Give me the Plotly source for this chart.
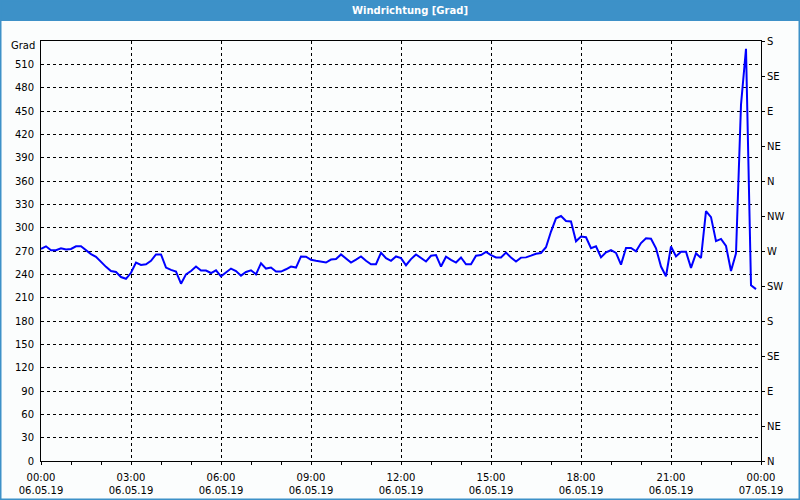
import pandas as pd
import plotly.graph_objects as go

# ---- data (10-minute samples, 06.05.19 00:00 .. 23:50) ----
start_time = "2019-05-06 00:00"
n_samples = 144
wind_dir = [
    272.6, 276, 271, 271, 273.5, 272, 272.6, 276, 276, 270.4,
    266, 262.6, 256, 249.6, 244.3, 243, 236.5, 234.3, 242, 255,
    252, 253, 257.4, 265.6, 265.6, 248.7, 245.7, 243.5, 228, 240,
    244.3, 250, 244.8, 244.8, 241.7, 245.2, 237.4, 243, 247.4, 244.3,
    238.3, 243, 245.2, 240, 254.3, 247.4, 248.7, 243.5,
    243.5, 246.5,
    250, 248.7, 263, 262.6, 258.7, 257.4, 256.5, 255.2, 259, 259.6,
    265.6, 260.9, 255.2, 259, 263, 257.4, 253, 253, 267.8, 260.9,
    257.4, 263, 260.9, 251.7, 259.6, 265.6, 260.9, 256.5, 263.9, 264.8,
    250, 262.6, 258.7, 255.2, 261.7, 253, 253, 263.9, 264.8, 268.7,
    264.8, 261.7, 261.7, 268, 261.5, 256.5, 261.5, 261.8, 264, 266.5,
    267.4, 274.8, 295, 312, 315, 308.5, 308, 282.5, 288.7, 287.7,
    273.5, 276, 261.8, 268.3, 271, 267.6, 252.5, 273.9, 273.9, 269.6,
    280.2, 286.4, 285.8, 273.5, 250, 237.5, 276, 263, 269, 269,
    248.3, 267, 261, 321.3, 313.5, 282.7, 285.5, 276.5, 244.2, 267,
    458, 530, 226, 221,
]
times = pd.date_range(start_time, periods=n_samples, freq="10min")

left_ticks = [0, 30, 60, 90, 120, 150, 180, 210, 240, 270, 300, 330,
              360, 390, 420, 450, 480, 510]
compass_vals = [0, 45, 90, 135, 180, 225, 270, 315, 360, 405, 450, 495, 540]
compass_text = ["N", "NE", "E", "SE", "S", "SW", "W", "NW",
                "N", "NE", "E", "SE", "S"]
title_text = "Windrichtung [Grad]"
unit_text = "Grad"
x_start = "2019-05-06 00:00"
x_end = "2019-05-07 00:00"

# ---- styling ----
FONT = "DejaVu Sans"
BG = "#fbfdfd"
BAR = "#3d91c8"
W, H = 800, 500
ML, MR, MT, MB = 41, 39, 41, 39
PW, PH = W - ML - MR, H - MT - MB


def px_x(p):
    return (p - ML) / PW


def px_y(p):
    return (H - MB - p) / PH


fig = go.Figure()
fig.add_trace(go.Scatter(
    x=times, y=wind_dir, mode="lines",
    line=dict(color="#0000ff", width=2),
    showlegend=False, hoverinfo="x+y",
))
# carrier for right compass axis
fig.add_trace(go.Scatter(
    x=times, y=wind_dir, mode="lines", yaxis="y2",
    line=dict(color="rgba(0,0,0,0)", width=0),
    showlegend=False, hoverinfo="skip",
))

fig.update_layout(
    width=W, height=H,
    margin=dict(l=ML, r=MR, t=MT, b=MB, pad=0, autoexpand=False),
    paper_bgcolor=BG, plot_bgcolor=BG,
    font=dict(family=FONT, size=10, color="#000000"),
    xaxis=dict(
        type="date", range=[x_start, x_end], automargin=False,
        tickmode="linear", tick0=x_start, dtick=3 * 3600000,
        tickformat="%H:%M<br>%d.%m.%y",
        ticks="outside", ticklen=3, tickcolor="#000000", tickwidth=1,
        ticklabelstandoff=4,
        minor=dict(dtick=3600000, ticks="outside", ticklen=3,
                   tickcolor="#000000", showgrid=False),
        showgrid=True, gridcolor="#000000", gridwidth=1, griddash="3px,3px",
        showline=True, linecolor="#000000", linewidth=1, mirror=True,
        zeroline=False, fixedrange=True,
    ),
    yaxis=dict(
        range=[0, 540], tickmode="array", tickvals=left_ticks,
        ticks="", ticklabelstandoff=4, automargin=False,
        showgrid=True, gridcolor="#000000", gridwidth=1, griddash="3px,3px",
        showline=True, linecolor="#000000", linewidth=1, mirror=True,
        zeroline=False, fixedrange=True,
    ),
    yaxis2=dict(
        range=[0, 540], overlaying="y", side="right", automargin=False,
        tickmode="array", tickvals=compass_vals, ticktext=compass_text,
        ticks="outside", ticklen=3, tickcolor="#000000",
        showgrid=False, showline=False, zeroline=False, fixedrange=True,
    ),
    shapes=[
        dict(type="rect", xref="paper", yref="paper",
             x0=px_x(0), x1=px_x(W), y0=px_y(21), y1=px_y(0),
             fillcolor=BAR, line=dict(width=0), layer="above"),
        dict(type="rect", xref="paper", yref="paper",
             x0=px_x(0.75), x1=px_x(W - 0.75), y0=px_y(H - 0.75), y1=px_y(0.75),
             fillcolor="rgba(0,0,0,0)", line=dict(color=BAR, width=1.5),
             layer="above"),
    ],
    annotations=[
        dict(text="<b>" + title_text + "</b>", xref="paper", yref="paper",
             x=px_x(410), y=px_y(10.5), xanchor="center", yanchor="middle",
             showarrow=False, font=dict(family=FONT, size=10, color="#ffffff")),
        dict(text=unit_text, xref="paper", yref="paper",
             x=px_x(37), y=px_y(46), xanchor="right", yanchor="middle",
             showarrow=False, font=dict(family=FONT, size=10, color="#000000")),
    ],
)

fig.write_html("out.html")
